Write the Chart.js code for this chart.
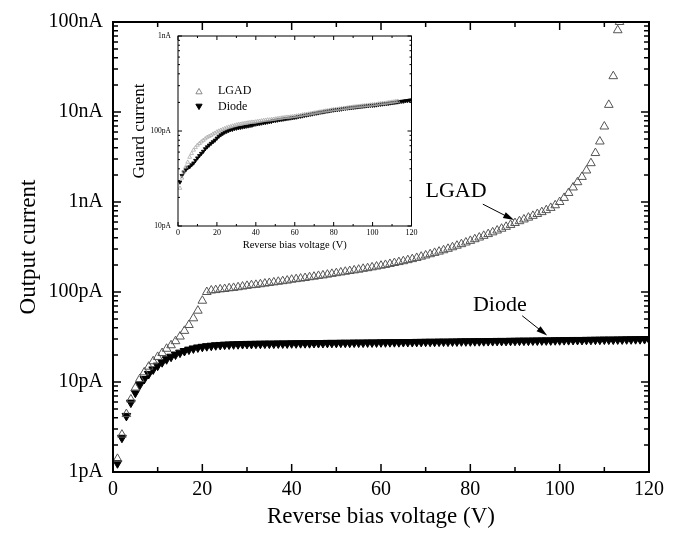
<!DOCTYPE html>
<html>
<head>
<meta charset="utf-8">
<script src="https://cdn.jsdelivr.net/npm/chart.js@4.4.1/dist/chart.umd.min.js"></script>
<style>
  html, body { margin: 0; padding: 0; background: #fff; }
  #wrap { position: relative; width: 678px; height: 534px; }
  #main { position: absolute; left: 0; top: 0; }
  #inset { position: absolute; left: 120px; top: 22px; }
</style>
</head>
<body>
<div id="wrap">
  <canvas id="main" width="678" height="534"></canvas>
  <canvas id="inset" width="300" height="236"></canvas>
</div>
<script>
// reverse bias sweep, 1 V steps (V)
var voltage = [
  1, 2, 3, 4, 5, 6, 7, 8, 9, 10, 11, 12, 13, 14, 15, 16, 17, 18, 19, 20,
  21, 22, 23, 24, 25, 26, 27, 28, 29, 30, 31, 32, 33, 34, 35, 36, 37, 38, 39, 40,
  41, 42, 43, 44, 45, 46, 47, 48, 49, 50, 51, 52, 53, 54, 55, 56, 57, 58, 59, 60,
  61, 62, 63, 64, 65, 66, 67, 68, 69, 70, 71, 72, 73, 74, 75, 76, 77, 78, 79, 80,
  81, 82, 83, 84, 85, 86, 87, 88, 89, 90, 91, 92, 93, 94, 95, 96, 97, 98, 99, 100,
  101, 102, 103, 104, 105, 106, 107, 108, 109, 110, 111, 112, 113, 114, 115, 116, 117, 118, 119, 120
];

// output current (pA), main plot
var lgadOutput = [
  1.4, 2.6, 4.4, 6.4, 8.6, 10.8, 12.8, 14.8, 17.0, 19.0,
  21.0, 23.4, 25.6, 28.4, 32, 37, 43, 51, 62, 80,
  100, 104, 105, 107, 108, 110, 111, 113, 115, 117,
  119, 120, 122, 124, 126, 128, 130, 132, 134, 137,
  139, 141, 143, 146, 148, 151, 153, 156, 159, 162,
  165, 168, 171, 174, 177, 181, 184, 188, 192, 196,
  200, 205, 210, 215, 220, 226, 232, 239, 247, 255,
  263, 272, 281, 291, 302, 314, 327, 340, 355, 370,
  386, 403, 421, 440, 460, 482, 505, 530, 556, 584,
  612, 640, 670, 702, 736, 772, 812, 860, 920, 1000,
  1110, 1260, 1450, 1660, 1900, 2240, 2700, 3500, 4700, 6900,
  12000, 25000, 81000
];
// last LGAD reading, at the top edge of the plot
var lgadLastV = [113.4];
var lgadLastI = [100000];

var diodeOutput = [
  1.25, 2.4, 4.2, 5.9, 7.6, 9.3, 10.8, 12.3, 13.8, 15.2,
  16.6, 17.9, 19.1, 20.2, 21.2, 22.1, 22.9, 23.6, 24.2, 24.6,
  25.0, 25.3, 25.6, 25.8, 26.0, 26.1, 26.2, 26.3, 26.4, 26.5,
  26.5, 26.6, 26.6, 26.7, 26.7, 26.7, 26.8, 26.8, 26.8, 26.9,
  26.9, 27.0, 27.0, 27.0, 27.1, 27.1, 27.1, 27.2, 27.2, 27.2,
  27.3, 27.3, 27.3, 27.4, 27.4, 27.4, 27.5, 27.5, 27.5, 27.6,
  27.6, 27.7, 27.7, 27.7, 27.8, 27.8, 27.8, 27.9, 27.9, 28.0,
  28.0, 28.0, 28.1, 28.1, 28.1, 28.2, 28.2, 28.3, 28.3, 28.3,
  28.4, 28.4, 28.4, 28.5, 28.5, 28.6, 28.6, 28.6, 28.7, 28.7,
  28.8, 28.8, 28.8, 28.9, 28.9, 29.0, 29.0, 29.0, 29.1, 29.1,
  29.2, 29.2, 29.3, 29.3, 29.3, 29.4, 29.4, 29.5, 29.5, 29.6,
  29.6, 29.6, 29.7, 29.7, 29.8, 29.8, 29.9, 29.9, 30.0, 30.0
];

// guard current (pA), inset
var lgadGuard = [
  25, 32, 37, 42, 47, 53, 58, 63, 67, 71,
  74, 77, 80, 83, 86, 88, 90, 93, 95, 98,
  100, 102, 104, 106, 108, 110, 111, 113, 114, 116,
  117, 118, 119, 120, 121, 122, 123, 124, 124, 125,
  126, 127, 128, 129, 130, 131, 131, 132, 133, 134,
  135, 136, 137, 138, 139, 140, 140, 141, 142, 143,
  144, 145, 146, 148, 149, 150, 151, 152, 154, 155,
  156, 158, 159, 160, 162, 163, 164, 165, 167, 168,
  169, 170, 171, 172, 173, 174, 175, 177, 178, 179,
  180, 181, 182, 183, 184, 185, 186, 187, 188, 189,
  190, 191, 193, 194, 195, 196, 197, 199, 200, 202,
  203, 205, 206
];
var diodeGuard = [
  29, 34, 37, 39, 41, 42, 44, 46, 49, 52,
  55, 58, 61, 65, 68, 71, 74, 77, 80, 84,
  88, 91, 94, 97, 99, 101, 103, 104, 106, 107,
  108, 109, 110, 111, 112, 113, 114, 115, 117, 118,
  119, 120, 121, 122, 123, 124, 125, 126, 128, 129,
  130, 131, 132, 133, 134, 135, 136, 137, 138, 139,
  140, 142, 143, 144, 146, 147, 148, 150, 151, 153,
  154, 155, 157, 158, 159, 161, 162, 163, 165, 166,
  167, 168, 169, 170, 172, 173, 174, 175, 176, 177,
  178, 179, 180, 181, 182, 183, 184, 185, 186, 186,
  187, 188, 190, 191, 192, 193, 194, 195, 197, 198,
  199, 201, 202, 204, 205, 206, 208, 209, 211, 212
];

var xTicks = [0, 20, 40, 60, 80, 100, 120];
var xMinorTicks = [10, 30, 50, 70, 90, 110];
var yTicksMain = [1, 10, 100, 1000, 10000, 100000];
var yLabelsMain = ['1pA', '10pA', '100pA', '1nA', '10nA', '100nA'];
var yTicksInset = [10, 100, 1000];
var yLabelsInset = ['10pA', '100pA', '1nA'];

var SERIF = "'Liberation Serif', 'Times New Roman', serif";

function pts(xs, ys) {
  return ys.map(function(v, i) { return { x: xs[i], y: v }; });
}

function tri(ctx, x, y, r, down) {
  var s = down ? -1 : 1;
  ctx.beginPath();
  ctx.moveTo(x, y - s * r);
  ctx.lineTo(x + r * 0.866, y + s * r * 0.5);
  ctx.lineTo(x - r * 0.866, y + s * r * 0.5);
  ctx.closePath();
}

// inward ticks on all four sides + frame
var boxTicks = {
  id: 'boxTicks',
  afterDatasetsDraw: function(chart, args, o) {
    var ctx = chart.ctx, a = chart.chartArea;
    var xs = chart.scales.x, ys = chart.scales.y;
    ctx.save();
    ctx.strokeStyle = '#000';
    ctx.lineWidth = o.tickWidth;
    ctx.beginPath();
    function xt(v, len) {
      var p = xs.getPixelForValue(v);
      ctx.moveTo(p, a.bottom); ctx.lineTo(p, a.bottom - len);
      ctx.moveTo(p, a.top); ctx.lineTo(p, a.top + len);
    }
    function yt(v, len) {
      var p = ys.getPixelForValue(v);
      ctx.moveTo(a.left, p); ctx.lineTo(a.left + len, p);
      ctx.moveTo(a.right, p); ctx.lineTo(a.right - len, p);
    }
    o.xMajor.forEach(function(v) { xt(v, o.major); });
    o.xMinor.forEach(function(v) { xt(v, o.minor); });
    o.yMajor.forEach(function(v, i) {
      yt(v, o.major);
      if (i < o.yMajor.length - 1) {
        for (var m = 2; m <= 9; m++) yt(v * m, o.minor);
      }
    });
    ctx.stroke();
    ctx.lineWidth = o.frameWidth;
    ctx.strokeRect(a.left, a.top, a.right - a.left, a.bottom - a.top);
    ctx.restore();
  }
};

// text labels with arrows, placed in data coordinates
var callouts = {
  id: 'callouts',
  afterDraw: function(chart, args, o) {
    var ctx = chart.ctx, xs = chart.scales.x, ys = chart.scales.y;
    ctx.save();
    o.items.forEach(function(it) {
      ctx.fillStyle = '#000';
      ctx.font = o.font;
      ctx.textAlign = 'center';
      ctx.textBaseline = 'middle';
      ctx.fillText(it.label, xs.getPixelForValue(it.at[0]), ys.getPixelForValue(it.at[1]));
      var x0 = xs.getPixelForValue(it.from[0]), y0 = ys.getPixelForValue(it.from[1]);
      var x1 = xs.getPixelForValue(it.to[0]), y1 = ys.getPixelForValue(it.to[1]);
      var ang = Math.atan2(y1 - y0, x1 - x0);
      ctx.strokeStyle = '#000';
      ctx.lineWidth = 1;
      ctx.beginPath();
      ctx.moveTo(x0, y0);
      ctx.lineTo(x1 - 8 * Math.cos(ang), y1 - 8 * Math.sin(ang));
      ctx.stroke();
      ctx.beginPath();
      ctx.moveTo(x1, y1);
      ctx.lineTo(x1 - 11 * Math.cos(ang) + 3.2 * Math.sin(ang), y1 - 11 * Math.sin(ang) - 3.2 * Math.cos(ang));
      ctx.lineTo(x1 - 11 * Math.cos(ang) - 3.2 * Math.sin(ang), y1 - 11 * Math.sin(ang) + 3.2 * Math.cos(ang));
      ctx.closePath();
      ctx.fill();
    });
    ctx.restore();
  }
};

// small legend inside the inset plot
var insetLegend = {
  id: 'insetLegend',
  afterDraw: function(chart, args, o) {
    var ctx = chart.ctx, a = chart.chartArea;
    ctx.save();
    chart.data.datasets.forEach(function(ds, i) {
      var cx = a.left + o.x, cy = a.top + o.y + i * o.gap;
      tri(ctx, cx, cy + (ds.pointRotation ? -1 : 1), o.r, !!ds.pointRotation);
      if (ds.pointRotation) { ctx.fillStyle = ds.pointBackgroundColor; ctx.fill(); }
      ctx.strokeStyle = ds.legendColor || ds.pointBorderColor;
      ctx.lineWidth = 1;
      ctx.stroke();
      ctx.fillStyle = '#000';
      ctx.font = o.font;
      ctx.textAlign = 'left';
      ctx.textBaseline = 'middle';
      ctx.fillText(ds.label, a.left + o.textX, cy);
    });
    ctx.restore();
  }
};

var lgadMainPts = pts(voltage, lgadOutput).concat(pts(lgadLastV, lgadLastI));

new Chart(document.getElementById('main'), {
  type: 'scatter',
  data: {
    datasets: [
      {
        label: 'LGAD',
        data: lgadMainPts,
        pointStyle: 'triangle',
        pointRadius: 5,
        pointBorderWidth: 1,
        pointBorderColor: '#555',
        pointBackgroundColor: 'rgba(0,0,0,0)'
      },
      {
        label: 'Diode',
        data: pts(voltage, diodeOutput),
        pointStyle: 'triangle',
        pointRotation: 180,
        pointRadius: 5,
        pointBorderWidth: 1,
        pointBorderColor: '#000',
        pointBackgroundColor: '#000'
      }
    ]
  },
  options: {
    responsive: false,
    animation: false,
    layout: { padding: { left: 0, right: 29, top: 20, bottom: 0 } },
    plugins: {
      legend: { display: false },
      tooltip: { enabled: false },
      boxTicks: { xMajor: xTicks, xMinor: xMinorTicks, yMajor: yTicksMain, major: 8, minor: 5, tickWidth: 1.5, frameWidth: 2 },
      callouts: {
        font: '22px ' + SERIF,
        items: [
          { label: 'LGAD', at: [76.8, 1317], from: [82.8, 946], to: [89.8, 629] },
          { label: 'Diode', at: [86.6, 72.2], from: [91.6, 54.5], to: [97.2, 32.8] }
        ]
      }
    },
    scales: {
      x: {
        type: 'linear', min: 0, max: 120,
        afterBuildTicks: function(s) { s.ticks = xTicks.map(function(v) { return { value: v }; }); },
        afterFit: function(s) { s.height = 62; },
        grid: { display: false, drawTicks: false },
        border: { display: false },
        ticks: { color: '#000', padding: 6, font: { family: SERIF, size: 20 }, maxRotation: 0 },
        title: { display: true, text: 'Reverse bias voltage (V)', color: '#000', font: { family: SERIF, size: 23 }, padding: { top: 0, bottom: 3 } }
      },
      y: {
        type: 'logarithmic', min: 1, max: 100000,
        afterBuildTicks: function(s) { s.ticks = yTicksMain.map(function(v) { return { value: v }; }); },
        afterFit: function(s) { s.width = 113; },
        grid: { display: false, drawTicks: false },
        border: { display: false },
        ticks: {
          color: '#000', padding: 10, font: { family: SERIF, size: 20 },
          callback: function(v) { return yLabelsMain[Math.round(Math.log10(v))]; }
        },
        title: { display: true, text: 'Output current', color: '#000', font: { family: SERIF, size: 23 }, padding: { top: 15, bottom: 0 } }
      }
    }
  },
  plugins: [boxTicks, callouts]
});

new Chart(document.getElementById('inset'), {
  type: 'scatter',
  data: {
    datasets: [
      {
        label: 'LGAD',
        data: pts(voltage, lgadGuard),
        pointStyle: 'triangle',
        pointRadius: 2.2,
        pointBorderWidth: 0.8,
        pointBorderColor: '#aaa',
        pointBackgroundColor: 'rgba(0,0,0,0)',
        legendColor: '#888'
      },
      {
        label: 'Diode',
        data: pts(voltage, diodeGuard),
        pointStyle: 'triangle',
        pointRotation: 180,
        pointRadius: 2.2,
        pointBorderWidth: 0.8,
        pointBorderColor: '#000',
        pointBackgroundColor: '#000'
      }
    ]
  },
  options: {
    responsive: false,
    animation: false,
    layout: { padding: { left: 0, right: 8, top: 14, bottom: 0 } },
    plugins: {
      legend: { display: false },
      tooltip: { enabled: false },
      boxTicks: { xMajor: xTicks, xMinor: xMinorTicks, yMajor: yTicksInset, major: 4, minor: 2, tickWidth: 1, frameWidth: 1 },
      insetLegend: { x: 21, y: 55, gap: 16, r: 3.6, textX: 40, font: '12px ' + SERIF }
    },
    scales: {
      x: {
        type: 'linear', min: 0, max: 120,
        afterBuildTicks: function(s) { s.ticks = xTicks.map(function(v) { return { value: v }; }); },
        afterFit: function(s) { s.height = 32; },
        grid: { display: false, drawTicks: false },
        border: { display: false },
        ticks: { color: '#000', padding: 2.5, font: { family: SERIF, size: 8 }, maxRotation: 0 },
        title: { display: true, text: 'Reverse bias voltage (V)', color: '#000', font: { family: SERIF, size: 10.5 }, padding: { top: 0, bottom: 6 } }
      },
      y: {
        type: 'logarithmic', min: 10, max: 1000,
        afterBuildTicks: function(s) { s.ticks = yTicksInset.map(function(v) { return { value: v }; }); },
        afterFit: function(s) { s.width = 58; },
        grid: { display: false, drawTicks: false },
        border: { display: false },
        ticks: {
          color: '#000', padding: 7, font: { family: SERIF, size: 7.5 },
          callback: function(v) { return yLabelsInset[Math.round(Math.log10(v)) - 1]; }
        },
        title: { display: true, text: 'Guard current', color: '#000', font: { family: SERIF, size: 17 }, padding: { top: 9, bottom: 0 } }
      }
    }
  },
  plugins: [boxTicks, insetLegend]
});
</script>
</body>
</html>
